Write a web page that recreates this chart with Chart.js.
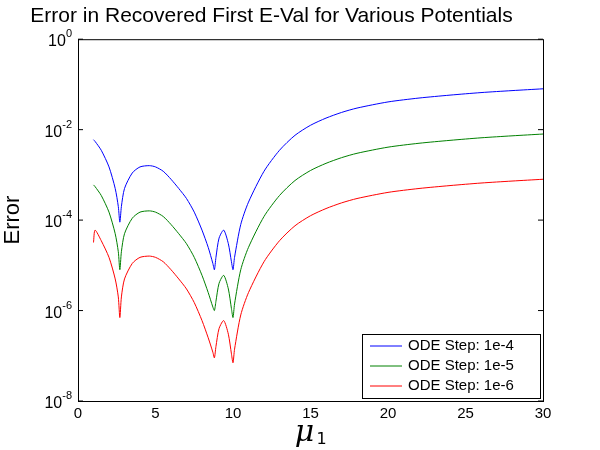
<!DOCTYPE html>
<html lang="en">
<head>
<meta charset="UTF-8">
<title>Error in Recovered First E-Val</title>
<script src="https://cdn.jsdelivr.net/npm/chart.js"></script>
<style>body{margin:0;background:#fff}</style>
</head>
<body>
<div style="width:600px;height:450px"><canvas id="c"></canvas></div>
<script>
// mu_1 sample positions
const mu = [1,1.1,1.5,2,2.4,2.6,2.7,2.8,3,3.5,4,4.6,5,5.5,6,6.5,7,7.5,8,8.4,8.7,8.8,8.9,9.1,9.4,9.7,9.9,10,10.1,10.5,11,12,13,14,15,16,17,18,20,22,24,26,28,30];
const step4 = [6e-3,5.5e-3,3.5e-3,1.5e-3,5e-4,2e-4,9e-5,2e-4,5e-4,1.1e-3,1.5e-3,1.6e-3,1.5e-3,1.2e-3,8e-4,5e-4,3e-4,1.5e-4,6e-5,2.5e-5,1.1e-5,8e-6,1.5e-5,4e-5,6e-5,3e-5,1.2e-5,8e-6,1.5e-5,8e-5,2.5e-4,1.2e-3,3.5e-3,7.5e-3,1.25e-2,1.8e-2,2.4e-2,3e-2,4.1e-2,5e-2,5.8e-2,6.6e-2,7.3e-2,8e-2];
const step5 = [6e-4,5.5e-4,3.5e-4,1.5e-4,5e-5,2e-5,8e-6,2e-5,5e-5,1.1e-4,1.5e-4,1.6e-4,1.5e-4,1.2e-4,8e-5,5e-5,3e-5,1.5e-5,6e-6,2.5e-6,1.2e-6,1e-6,1.6e-6,4e-6,6e-6,3e-6,1.1e-6,7e-7,1.4e-6,8e-6,2.5e-5,1.2e-4,3.5e-4,7.5e-4,1.25e-3,1.8e-3,2.4e-3,3e-3,4.1e-3,5e-3,5.8e-3,6.6e-3,7.3e-3,8e-3];
const step6 = [3.2e-5,6e-5,3.5e-5,1.5e-5,5e-6,2e-6,7e-7,2e-6,5e-6,1.1e-5,1.5e-5,1.6e-5,1.5e-5,1.2e-5,8e-6,5e-6,3e-6,1.5e-6,6e-7,2.5e-7,1.2e-7,9e-8,1.6e-7,4e-7,6e-7,3e-7,1.1e-7,7e-8,1.4e-7,8e-7,2.5e-6,1.2e-5,3.5e-5,7.5e-5,1.25e-4,1.8e-4,2.4e-4,3e-4,4.1e-4,5e-4,5.8e-4,6.6e-4,7.3e-4,8e-4];
const seriesNames = ['ODE Step: 1e-4','ODE Step: 1e-5','ODE Step: 1e-6'];
const colors = ['#0000ff','#008000','#ff0000'];
const yExps = [-8,-6,-4,-2,0];

const mk = (vals, i) => ({
  label: seriesNames[i], data: mu.map((x, k) => ({x, y: vals[k]})),
  borderColor: colors[i], borderWidth: 1, pointRadius: 0, tension: 0.25, fill: false
});

// MATLAB style: box, y labels with exponents, legend box
const matlabPlugin = {
  id: 'matlab',
  afterDraw(chart) {
    const {ctx, chartArea: a, scales: {y}} = chart;
    ctx.save();
    ctx.strokeStyle = '#000'; ctx.lineWidth = 1;
    ctx.strokeRect(a.left + 0.5, a.top + 0.5, a.right - a.left, a.bottom - a.top);
    ctx.fillStyle = '#000';
    ctx.textBaseline = 'alphabetic';
    yExps.forEach(e => {
      const py = y.getPixelForValue(Math.pow(10, e));
      ctx.beginPath(); ctx.moveTo(a.left, py); ctx.lineTo(a.left + 5, py);
      ctx.moveTo(a.right, py); ctx.lineTo(a.right - 5, py); ctx.stroke();
      ctx.textAlign = 'right';
      const sup = String(e);
      ctx.font = '11px Arial';
      const sw = ctx.measureText(sup).width;
      ctx.fillText(sup, a.left - 6, py - 2);
      ctx.font = '16px Arial';
      ctx.fillText('10', a.left - 6 - sw, py + 7);
    });
    // legend
    const w = 178, h = 64, lx = a.right - w - 3, ly = a.bottom - h - 3;
    ctx.fillStyle = '#fff'; ctx.fillRect(lx, ly, w, h);
    ctx.strokeRect(lx + 0.5, ly + 0.5, w, h);
    ctx.font = '15px Arial'; ctx.textAlign = 'left'; ctx.textBaseline = 'middle';
    seriesNames.forEach((n, i) => {
      const yy = ly + 12 + i * 20;
      ctx.strokeStyle = colors[i];
      ctx.beginPath(); ctx.moveTo(lx + 8, yy); ctx.lineTo(lx + 40, yy); ctx.stroke();
      ctx.fillStyle = '#000'; ctx.fillText(n, lx + 46, yy);
    });
    // x label
    ctx.font = 'italic 30px "DejaVu Serif"'; ctx.textAlign = 'center'; ctx.textBaseline = 'alphabetic';
    ctx.fillText('\u03bc', (a.left + a.right) / 2 - 6, 441);
    ctx.font = '16px "DejaVu Sans"';
    ctx.fillText('1', (a.left + a.right) / 2 + 11, 444);
    ctx.restore();
  }
};

new Chart(document.getElementById('c'), {
  type: 'line',
  data: {datasets: [mk(step4, 0), mk(step5, 1), mk(step6, 2)]},
  options: {
    responsive: true, maintainAspectRatio: false, animation: false,
    layout: {padding: {top: 0, right: 57, bottom: 23, left: 0}},
    plugins: {
      legend: {display: false},
      title: {display: true, text: 'Error in Recovered First E-Val for Various Potentials',
        color: '#000', font: {size: 21, family: 'Arial', weight: 'normal'}, padding: {top: 4, bottom: 10}}
    },
    scales: {
      x: {type: 'linear', min: 0, max: 30,
        ticks: {stepSize: 5, color: '#000', font: {size: 15, family: 'Arial'}, padding: 4},
        grid: {display: false, drawTicks: false}, border: {color: '#000'}},
      y: {type: 'logarithmic', min: 1e-8, max: 1,
        afterBuildTicks: s => { s.ticks = yExps.map(e => ({value: Math.pow(10, e)})); },
        ticks: {callback: () => '', font: {size: 15}},
        afterFit: s => { s.width = 78; },
        title: {display: true, text: 'Error', color: '#000', font: {size: 22, family: 'Arial'}, padding: 0},
        grid: {display: false, drawTicks: false}, border: {color: '#000'}}
    }
  },
  plugins: [matlabPlugin]
});
</script>
</body>
</html>
